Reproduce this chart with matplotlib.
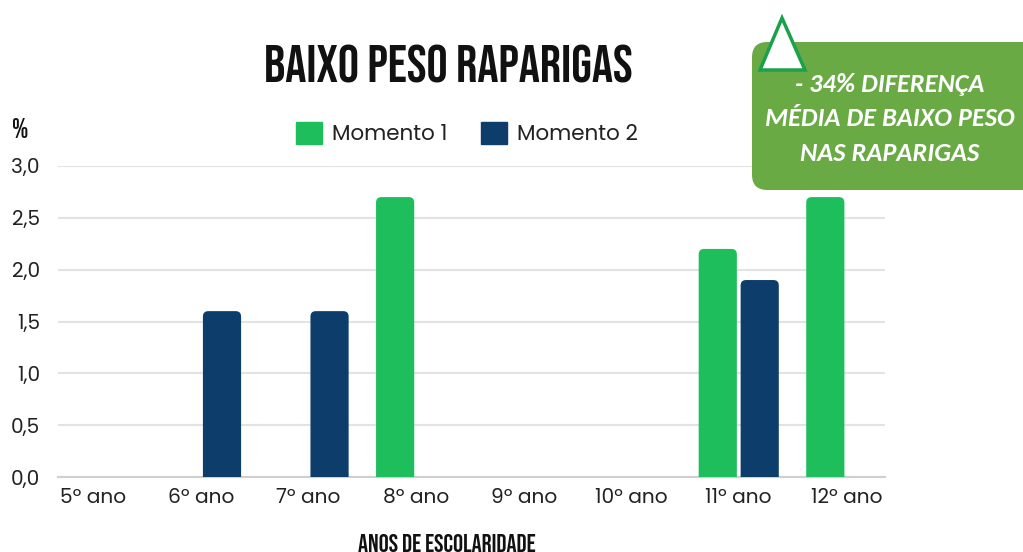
import matplotlib.pyplot as plt
from matplotlib.patches import FancyBboxPatch, Patch, Polygon
from matplotlib.ticker import FuncFormatter
import numpy as np

# dados
anos = ['5º ano', '6º ano', '7º ano', '8º ano', '9º ano', '10º ano', '11º ano', '12º ano']
momento1 = [0, 0, 0, 2.7, 0, 0, 2.2, 2.7]
momento2 = [0, 1.6, 1.6, 0, 0, 0, 1.9, 0]
series_nomes = ['Momento 1', 'Momento 2']
cores = ['#1ebe5d', '#0d3d6b']
nota = '- 34% DIFERENÇA\nMÉDIA DE BAIXO PESO\nNAS RAPARIGAS'

W, H = 1023, 552
plt.rcParams['font.family'] = ['Poppins', 'DejaVu Sans']
fig = plt.figure(figsize=(W / 100, H / 100), dpi=100)
ax = fig.add_axes([58 / W, 1 - 477 / H, (885 - 58) / W, (477 - 166) / H])

x = np.arange(len(anos))
largura = 0.355
for vals, off, cor in [(momento1, -0.195, cores[0]), (momento2, 0.195, cores[1])]:
    barras = ax.bar(x + off, vals, largura, color=cor)
    # trocar por barras com topo arredondado
    for r in barras.patches:
        bx, bw, bh = r.get_x(), r.get_width(), r.get_height()
        r.remove()
        if bh <= 0:
            continue
        ax.add_patch(FancyBboxPatch((bx, -0.1), bw, bh + 0.1,
                                    boxstyle='round,pad=0,rounding_size=0.05',
                                    mutation_aspect=1.04, fc=cor, ec='none', zorder=3))

ax.set_xlim(-0.33, 7.36)
ax.set_ylim(0, 3.0)
ax.set_yticks(np.arange(0, 3.01, 0.5))
ax.yaxis.set_major_formatter(FuncFormatter(lambda v, p: f'{v:.1f}'.replace('.', ',')))
ax.set_xticks(x, anos)
ax.grid(axis='y', color='#e3e3e3', lw=1.5, zorder=0)
ax.set_axisbelow(True)
for s in ['top', 'right', 'left']:
    ax.spines[s].set_visible(False)
ax.spines['bottom'].set_color('#cfcfcf')
ax.spines['bottom'].set_linewidth(1.5)
ax.tick_params(length=0, labelsize=14.5, labelcolor='#222222')
ax.tick_params(axis='y', pad=13)
ax.tick_params(axis='x', pad=8)

cond = ['Bebas Neue', 'DejaVu Sans']
fig.text(448 / W, 1 - 64 / H, 'BAIXO PESO RAPARIGAS', ha='center', va='center',
         fontsize=38, fontweight='bold', family=cond, color='#111111')
fig.text(447 / W, 1 - 543 / H, 'ANOS DE ESCOLARIDADE', ha='center', va='center',
         fontsize=18, fontweight='bold', family=cond, color='#111111')
fig.text(20 / W, 1 - 128 / H, '%', ha='center', va='center',
         fontsize=20, fontweight='bold', family=cond, color='#111111')

handles = [Patch(color=c, label=n) for c, n in zip(cores, series_nomes)]
fig.legend(handles=handles, loc='center', bbox_to_anchor=(467 / W, 1 - 134 / H), ncol=2,
           frameon=False, fontsize=15.5, handlelength=1.2, handleheight=1.2,
           handletextpad=0.45, columnspacing=1.58, labelcolor='#222222')

# caixa verde com nota
caixa = FancyBboxPatch((752 / W, 1 - 190 / H), 300 / W, 148 / H,
                       boxstyle='round,pad=0,rounding_size=0.015', mutation_aspect=W / H,
                       transform=fig.transFigure, fc='#6aaa45', ec='none', zorder=5)
fig.add_artist(caixa)
fig.text(890 / W, 1 - 119 / H, nota, ha='center', va='center', color='white',
         fontsize=19, fontweight='bold', style='italic', family=['Carlito', 'DejaVu Sans'],
         linespacing=1.6, zorder=6)
tri = Polygon([(760 / W, 1 - 70 / H), (805 / W, 1 - 70 / H), (782 / W, 1 - 18 / H)],
              closed=True, transform=fig.transFigure, fc='white', ec='#1aa14a', lw=2.5, zorder=7)
fig.add_artist(tri)

fig.savefig('out.png', dpi=100)
